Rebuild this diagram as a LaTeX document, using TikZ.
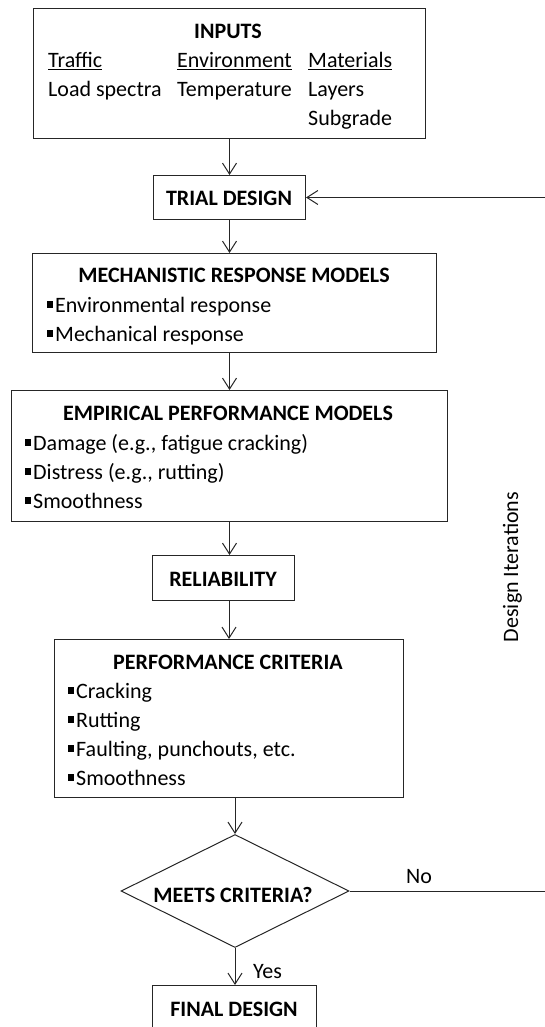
\documentclass[tikz,border=0pt]{standalone}
\usepackage{fontspec}
\setmainfont{Carlito}
\usetikzlibrary{arrows.meta,shapes.geometric}
\newcommand\sqb{\rule[4.5pt]{5.5pt}{6.5pt}\hspace{2.5pt}}
\begin{document}
\begin{tikzpicture}[x=1pt,y=-1pt,
  font=\fontsize{22}{28}\selectfont,
  box/.style={draw=black!85, line width=1pt, inner sep=0pt, anchor=north west},
  txt/.style={inner sep=0pt, anchor=base west},
  ttl/.style={inner sep=0pt, anchor=base, font=\fontsize{22}{28}\selectfont\bfseries},
  arr/.style={draw=black!85, line width=1pt, -{Straight Barb[length=11pt,width=14pt,line width=1pt]}},
  conn/.style={draw=black!85, line width=1pt}]
\useasboundingbox (0,0) rectangle (545,1027);
\clip (0,0) rectangle (545,1027);
% boxes
\node[box, minimum width=392pt, minimum height=130pt] (inputs) at (33,8) {};
\node[box, minimum width=152pt, minimum height=44pt] (trial) at (153,175) {};
\node[box, minimum width=404pt, minimum height=99pt] (mech) at (32,253) {};
\node[box, minimum width=436pt, minimum height=131pt] (emp) at (11,390) {};
\node[box, minimum width=142pt, minimum height=45pt] (rel) at (152,555) {};
\node[box, minimum width=349pt, minimum height=158pt] (perf) at (54,639) {};
\node[draw=black!85, line width=1pt, shape=diamond, inner sep=0pt, minimum width=228pt, minimum height=113pt] (meets) at (235,891) {};
\node[box, minimum width=164pt, minimum height=60pt] (final) at (152,985) {};
% texts
\node[ttl] (tinputs) at (228,39) {INPUTS};
\node[txt] (t1) at (48,68) {\underline{Traffic}};
\node[txt] (t2) at (177,68) {\underline{Environment}};
\node[txt] (t3) at (308,68) {\underline{Materials}};
\node[txt] (t4) at (48,97) {Load spectra};
\node[txt] (t5) at (177,97) {Temperature};
\node[txt] (t6) at (308,97) {Layers};
\node[txt] (t7) at (308,126) {Subgrade};
\node[ttl] (ttrial) at (229,205) {TRIAL DESIGN};
\node[ttl] (tmech) at (234,282) {MECHANISTIC RESPONSE MODELS};
\node[txt] (m1) at (47,312) {\sqb Environmental response};
\node[txt] (m2) at (47,341) {\sqb Mechanical response};
\node[ttl] (temp) at (228,420) {EMPIRICAL PERFORMANCE MODELS};
\node[txt] (e1) at (25,450) {\sqb Damage (e.g., fatigue cracking)};
\node[txt] (e2) at (25,479) {\sqb Distress (e.g., rutting)};
\node[txt] (e3) at (25,508) {\sqb Smoothness};
\node[ttl] (trel) at (223,586) {RELIABILITY};
\node[ttl] (tperf) at (228,669) {PERFORMANCE CRITERIA};
\node[txt] (p1) at (68,698) {\sqb Cracking};
\node[txt] (p2) at (68,727) {\sqb Rutting};
\node[txt] (p3) at (68,756) {\sqb Faulting, punchouts, etc.};
\node[txt] (p4) at (68,785) {\sqb Smoothness};
\node[ttl] (tmeets) at (233,902) {MEETS CRITERIA?};
\node[ttl] (tfinal) at (234,1016) {FINAL DESIGN};
\node[txt] (tno) at (406,883) {No};
\node[txt] (tyes) at (253,978) {Yes};
\node[inner sep=0pt, anchor=base, rotate=90] (titer) at (518,567) {Design Iterations};
% connectors
\draw[arr] (inputs.south -| trial.south) -- (trial.north);
\draw[arr] (trial.south) -- (trial.south |- mech.north);
\draw[arr] (emp.north |- mech.south) -- (emp.north);
\draw[arr] (emp.south) -- (emp.south |- rel.north);
\draw[arr] (perf.north |- rel.south) -- (perf.north);
\draw[arr] (meets.north |- perf.south) -- (meets.north);
\draw[arr] (meets.south) -- (meets.south |- final.north);
\coordinate (loopR) at (560,891);
\draw[arr] (meets.east) -- (loopR) -- (loopR |- trial.east) -- (trial.east);
\end{tikzpicture}
\end{document}
